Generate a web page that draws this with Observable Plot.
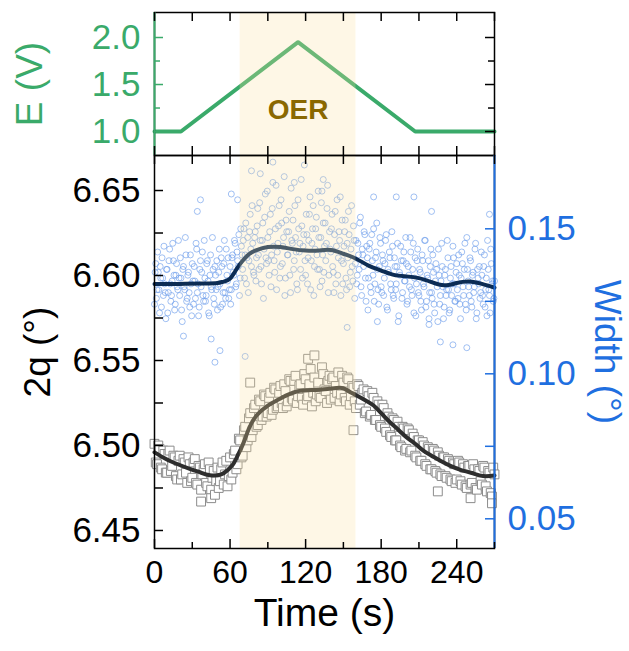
<!DOCTYPE html>
<html><head><meta charset="utf-8">
<script src="https://cdn.jsdelivr.net/npm/d3@7"></script>
<script src="https://cdn.jsdelivr.net/npm/@observablehq/plot@0.6"></script>
<style>
body{margin:0;background:#fff}
#wrap{position:relative;width:629px;height:651px;overflow:hidden}
#wrap svg{position:absolute;left:0}
</style>
</head><body><div id="wrap"></div>
<script>
// ---------- data ----------
const eTime = [0, 21, 114, 207, 270];
const eVolt = [1.0, 1.0, 1.95, 1.0, 1.0];
const oerStart = 68, oerEnd = 160;
const oerLabel = "OER";

const xTicks = [0, 60, 120, 180, 240];
const xMinor = [30, 90, 150, 210, 270];
const eTicks = [1.0, 1.5, 2.0];
const eMinor = [1.25, 1.75];
const thetaTicks = [6.45, 6.50, 6.55, 6.60, 6.65];
const thetaMinor = [6.475, 6.525, 6.575, 6.625];
const widthTicks = [0.05, 0.10, 0.15];
const widthMinor = [0.075, 0.125];

// 2θ scatter (squares), even seconds 0..270
const thetaScatterTime = d3.range(0, 271, 2);
const thetaScatter = [
 6.501,6.489,6.498,6.486,6.495, 6.484,6.497,6.488,6.493,6.480,
 6.494,6.483,6.490,6.478,6.489, 6.481,6.492,6.477,6.487,6.483,
 6.489,6.476,6.486,6.481,6.471, 6.487,6.479,6.490,6.483,6.476,
 6.493,6.484,6.497,6.489,6.503, 6.494,6.511,6.503,6.519,6.509,
 6.524,6.512,6.526,6.517,6.529, 6.519,6.531,6.521,6.533,6.523,
 6.535,6.522,6.532,6.526,6.538, 6.527,6.541,6.529,6.536,6.524,
 6.539,6.529,6.545,6.531,6.526, 6.537,6.528,6.542,6.532,6.538,
 6.527,6.540,6.535,6.543,6.530, 6.537,6.526,6.539,6.529,6.534,
 6.522,6.535,6.527,6.533,6.520, 6.529,6.518,6.528,6.515,6.524,
 6.511,6.522,6.508,6.517,6.505, 6.515,6.503,6.511,6.499,6.510,
 6.498,6.509,6.497,6.505,6.493, 6.503,6.491,6.500,6.488,6.498,
 6.486,6.497,6.484,6.494,6.482, 6.493,6.481,6.491,6.479,6.489,
 6.480,6.490,6.477,6.487,6.475, 6.488,6.478,6.486,6.474,6.485,
 6.477,6.487,6.473,6.484,6.470, 6.483
];
// 2θ scatter (squares), odd seconds 1..269
const thetaScatterTime2 = d3.range(1, 270, 2);
const thetaScatter2 = [
 6.490,6.500,6.487,6.497,6.484, 6.495,6.485,6.494,6.482,6.491,
 6.480,6.492,6.484,6.493,6.479, 6.490,6.478,6.488,6.474,6.486,
 6.478,6.490,6.474,6.485,6.479, 6.475,6.486,6.477,6.491,6.482,
 6.480,6.495,6.486,6.504,6.493, 6.509,6.499,6.516,6.505,6.522,
 6.511,6.527,6.515,6.530,6.517, 6.528,6.518,6.534,6.522,6.531,
 6.525,6.536,6.523,6.539,6.528, 6.538,6.525,6.535,6.528,6.542,
 6.527,6.536,6.523,6.540,6.530, 6.529,6.546,6.533,6.525,6.541,
 6.539,6.528,6.531,6.526,6.541, 6.528,6.540,6.524,6.535,6.526,
 6.536,6.524,6.531,6.519,6.532, 6.517,6.531,6.515,6.526,6.512,
 6.524,6.510,6.519,6.506,6.516, 6.503,6.514,6.500,6.511,6.497,
 6.510,6.496,6.507,6.494,6.503, 6.491,6.502,6.489,6.499,6.486,
 6.498,6.485,6.496,6.483,6.493, 6.482,6.492,6.480,6.490,6.478,
 6.491,6.479,6.489,6.476,6.488, 6.477,6.489,6.475,6.486,6.479,
 6.488,6.476,6.485,6.472,6.487
];
const thetaOutlierTime = [37, 45, 76, 122, 127, 158, 225, 251, 268];
const thetaOutlier = [6.467, 6.469, 6.537, 6.551, 6.553, 6.509, 6.473, 6.469, 6.466];

// peak width scatter (circles), whole seconds 0..270
const widthScatterTime = d3.range(0, 271, 1);
const widthScatter = [
 0.124,0.138,0.129,0.135,0.121,0.133,0.140,0.127,0.131,0.119,
 0.136,0.128,0.143,0.125,0.132,0.139,0.122,0.134,0.130,0.146,
 0.127,0.133,0.118,0.137,0.129,0.141,0.126,0.135,0.123,0.131,
 0.138,0.124,0.132,0.145,0.128,0.120,0.136,0.130,0.142,0.125,
 0.133,0.127,0.139,0.121,0.134,0.130,0.147,0.126,0.137,0.129,
 0.122,0.135,0.131,0.140,0.124,0.138,0.128,0.143,0.132,0.126,
 0.137,0.129,0.141,0.134,0.145,0.131,0.139,0.148,0.133,0.144,
 0.136,0.150,0.141,0.131,0.147,0.139,0.155,0.137,0.145,0.134,
 0.149,0.140,0.157,0.136,0.146,0.131,0.152,0.143,0.162,0.138,
 0.147,0.134,0.155,0.141,0.166,0.139,0.150,0.129,0.145,0.158,
 0.137,0.152,0.144,0.168,0.133,0.149,0.141,0.156,0.128,0.146,
 0.153,0.139,0.147,0.131,0.160,0.142,0.136,0.151,0.144,0.172,
 0.134,0.148,0.140,0.155,0.129,0.145,0.158,0.137,0.150,0.141,
 0.163,0.136,0.147,0.132,0.152,0.144,0.139,0.157,0.128,0.149,
 0.142,0.155,0.135,0.148,0.131,0.160,0.140,0.146,0.127,0.153,
 0.138,0.149,0.133,0.145,0.156,0.130,0.143,0.137,0.151,0.126,
 0.146,0.134,0.141,0.152,0.130,0.143,0.137,0.148,0.125,0.140,
 0.133,0.145,0.128,0.139,0.150,0.131,0.142,0.136,0.124,0.147,
 0.130,0.141,0.127,0.138,0.148,0.122,0.135,0.140,0.129,0.144,
 0.126,0.137,0.131,0.145,0.120,0.134,0.139,0.128,0.142,0.132,
 0.138,0.125,0.134,0.147,0.129,0.136,0.121,0.140,0.131,0.143,
 0.127,0.135,0.122,0.139,0.130,0.146,0.125,0.133,0.119,0.137,
 0.128,0.141,0.124,0.132,0.136,0.118,0.134,0.127,0.145,0.130,
 0.123,0.136,0.129,0.140,0.121,0.133,0.127,0.144,0.131,0.125,
 0.138,0.126,0.134,0.119,0.142,0.130,0.136,0.124,0.147,0.132,
 0.127,0.139,0.123,0.135,0.130,0.145,0.121,0.133,0.137,0.128,
 0.134,0.124,0.141,0.129,0.120,0.136,0.127,0.143,0.131,0.125,
 0.132
];
// peak width scatter (circles), half seconds 0.5..269.5
const widthScatterTime2 = d3.range(0.5, 270, 1);
const widthScatter2 = [
 0.135,0.126,0.142,0.129,0.137,0.123,0.133,0.144,0.128,0.136,
 0.121,0.139,0.131,0.127,0.145,0.134,0.124,0.138,0.129,0.133,
 0.140,0.122,0.136,0.130,0.147,0.125,0.134,0.128,0.141,0.120,
 0.132,0.137,0.126,0.143,0.131,0.123,0.139,0.135,0.127,0.146,
 0.125,0.138,0.132,0.120,0.141,0.129,0.136,0.124,0.134,0.139,
 0.130,0.143,0.123,0.137,0.128,0.146,0.126,0.134,0.140,0.129,
 0.124,0.140,0.135,0.146,0.130,0.142,0.137,0.127,0.150,0.141,
 0.146,0.133,0.152,0.140,0.128,0.149,0.143,0.158,0.135,0.147,
 0.132,0.151,0.141,0.159,0.137,0.146,0.126,0.154,0.140,0.163,
 0.139,0.149,0.130,0.157,0.144,0.135,0.165,0.142,0.151,0.133,
 0.160,0.138,0.147,0.127,0.153,0.141,0.149,0.134,0.164,0.145,
 0.136,0.158,0.142,0.129,0.150,0.145,0.167,0.133,0.148,0.139,
 0.155,0.131,0.146,0.161,0.139,0.150,0.127,0.143,0.154,0.136,
 0.147,0.130,0.159,0.141,0.135,0.152,0.145,0.165,0.134,0.143,
 0.150,0.137,0.128,0.156,0.144,0.134,0.149,0.161,0.139,0.131,
 0.144,0.153,0.129,0.140,0.148,0.135,0.158,0.132,0.146,0.138,
 0.131,0.145,0.136,0.154,0.127,0.141,0.149,0.133,0.144,0.122,
 0.143,0.130,0.148,0.134,0.125,0.140,0.152,0.129,0.137,0.145,
 0.128,0.139,0.133,0.146,0.123,0.136,0.142,0.131,0.149,0.127,
 0.140,0.129,0.137,0.118,0.135,0.144,0.126,0.139,0.132,0.147,
 0.124,0.137,0.130,0.142,0.127,0.145,0.133,0.120,0.139,0.128,
 0.136,0.125,0.141,0.131,0.146,0.123,0.134,0.139,0.128,0.143,
 0.126,0.135,0.121,0.138,0.130,0.143,0.124,0.132,0.137,0.119,
 0.134,0.127,0.146,0.129,0.122,0.137,0.131,0.140,0.125,0.135,
 0.129,0.141,0.124,0.133,0.138,0.127,0.145,0.122,0.136,0.130,
 0.140,0.125,0.134,0.128,0.143,0.119,0.136,0.131,0.126,0.142,
 0.127,0.137,0.123,0.133,0.146,0.129,0.121,0.138,0.132,0.126
];
const widthOutlierTime = [23, 34, 36.5, 45, 48, 52, 61, 66, 72, 77, 84, 94, 111, 133, 134, 153, 174, 177, 192, 206, 218, 220, 227, 237, 248, 266];
const widthOutlier = [0.113, 0.156, 0.160, 0.112, 0.104, 0.108, 0.162, 0.160, 0.106, 0.170, 0.169, 0.173, 0.166, 0.163, 0.167, 0.116, 0.161, 0.118, 0.161, 0.161, 0.117, 0.156, 0.111, 0.110, 0.109, 0.155];

// smoothed curves
const thetaSmoothTime = [0,8,15,28,36,44,53,58,62.5,66,70.4,75,81,90,99.6,113,131,147,153,160.5,167,174,180,187,194,200,207,213.5,220,227,235,243,252,261,270];
const thetaSmooth = [6.496,6.4925,6.490,6.4863,6.4843,6.4825,6.483,6.4855,6.489,6.494,6.501,6.510,6.5176,6.5235,6.5275,6.5318,6.5328,6.534,6.5325,6.5294,6.5268,6.5235,6.519,6.5137,6.509,6.5049,6.501,6.497,6.494,6.491,6.488,6.4857,6.4838,6.482,6.4824];
const widthSmoothTime = [0,20,40,50,55,60,65,70,75,80,90,100,110,120,130,140,150,160,170,180,190,200,210,220,230,240,250,260,270];
const widthSmooth = [0.1310,0.1310,0.1311,0.1313,0.1318,0.1328,0.1360,0.1390,0.1412,0.1425,0.1437,0.1437,0.1430,0.1425,0.1425,0.1427,0.1414,0.1397,0.1373,0.1356,0.1341,0.1336,0.1330,0.1316,0.1305,0.1313,0.1318,0.1310,0.1297];

// ---------- styles ----------
const green = "#3aaa6a", blue = "#1f6fe0", black = "#000";
const shadeFill = "#fbe29f", shadeOpacity = 0.26;
const font = "'Liberation Sans', Arial, Helvetica, sans-serif";
const xDomain = [0, 270];
const eDomain = [0.745, 2.266];
const thetaDomain = [6.4394, 6.6706];
const widthDomain = [0.03976, 0.17528];
const wToY = d3.scaleLinear(widthDomain, thetaDomain);

const zip = (ts, vs, k) => ts.map((t, i) => ({t, [k]: vs[i]}));
const eData = zip(eTime, eVolt, "v");
const thetaData = zip(thetaScatterTime, thetaScatter, "v")
  .concat(zip(thetaScatterTime2, thetaScatter2, "v"))
  .concat(zip(thetaOutlierTime, thetaOutlier, "v"))
  .sort((a, b) => a.t - b.t);
const widthData = zip(widthScatterTime, widthScatter, "w")
  .concat(zip(widthScatterTime2, widthScatter2, "w"))
  .concat(zip(widthOutlierTime, widthOutlier, "w"));
const thetaLine = zip(thetaSmoothTime, thetaSmooth, "v");
const widthLine = zip(widthSmoothTime, widthSmooth, "w");
const oer = [{x1: oerStart, x2: oerEnd}];

const W = 629, mL = 154, mR = 135, FW = W - mL - mR;
const major = 9, minor = 6;

// ---------- top panel ----------
const topH = 156, topMT = 12, topMB = 1, topFH = topH - topMT - topMB;
const topPlot = Plot.plot({
  width: W, height: topH, marginLeft: mL, marginRight: mR, marginTop: topMT, marginBottom: topMB,
  x: {domain: xDomain, axis: null},
  y: {domain: eDomain, axis: null},
  style: {fontFamily: font, background: "transparent", overflow: "visible"},
  marks: [
    Plot.line(eData, {x: "t", y: "v", stroke: green, strokeWidth: 4}),
    Plot.rect(oer, {x1: "x1", x2: "x2", fill: shadeFill, fillOpacity: shadeOpacity}),
    Plot.text([oerLabel], {x: () => (oerStart + oerEnd) / 2, frameAnchor: "bottom", dy: -37, fontSize: 28, fontWeight: "bold", fill: "#8a6800"}),
    Plot.frame({stroke: black, strokeWidth: 1.5}),
    Plot.ruleX([xDomain[0]], {stroke: green, strokeWidth: 2}),
    Plot.tickX(xTicks.concat(xMinor), {x: d => d, insetBottom: topFH - major, stroke: black, strokeWidth: 1.5}),
    Plot.tickX(xTicks.concat(xMinor), {x: d => d, insetTop: topFH - major, stroke: black, strokeWidth: 1.5}),
    Plot.tickY(eTicks, {y: d => d, insetRight: FW - major, stroke: green, strokeWidth: 1.5}),
    Plot.tickY(eMinor, {y: d => d, insetRight: FW - minor, stroke: green, strokeWidth: 1.5}),
    Plot.tickY(eTicks, {y: d => d, insetLeft: FW - major, stroke: black, strokeWidth: 1.5}),
    Plot.tickY(eMinor, {y: d => d, insetLeft: FW - minor, stroke: black, strokeWidth: 1.5}),
    Plot.axisY(eTicks, {anchor: "left", tickSize: 0, tickPadding: 14, tickFormat: d3.format(".1f"), fontSize: 35, color: green, label: null}),
    Plot.text(["E (V)"], {frameAnchor: "left", dx: -124, rotate: -90, textAnchor: "middle", fontSize: 37, fill: green})
  ]
});
topPlot.style.top = "0px";

// ---------- bottom panel ----------
const botTop = 154, botH = 497, botMT = 1, botMB = 103, botFH = botH - botMT - botMB;
const botPlot = Plot.plot({
  width: W, height: botH, marginLeft: mL, marginRight: mR, marginTop: botMT, marginBottom: botMB,
  x: {domain: xDomain, axis: null},
  y: {domain: thetaDomain, axis: null},
  style: {fontFamily: font, background: "transparent", overflow: "visible"},
  marks: [
    Plot.dot(widthData, {x: "t", y: d => wToY(d.w), r: 3, stroke: "#6b9ceb", strokeOpacity: 0.8, strokeWidth: 0.8, fill: "none"}),
    Plot.dot(thetaData, {x: "t", y: "v", symbol: "square", r: 5, stroke: "#8c8c8c", strokeWidth: 1, fill: "#fff"}),
    Plot.line(widthLine, {x: "t", y: d => wToY(d.w), curve: "natural", stroke: "#0c2c54", strokeWidth: 4}),
    Plot.line(thetaLine, {x: "t", y: "v", curve: "natural", stroke: "#2e2e2e", strokeWidth: 4}),
    Plot.rect(oer, {x1: "x1", x2: "x2", fill: shadeFill, fillOpacity: shadeOpacity}),
    Plot.frame({stroke: black, strokeWidth: 1.5}),
    Plot.ruleX([xDomain[1]], {stroke: blue, strokeWidth: 2}),
    Plot.tickX(xTicks, {x: d => d, insetTop: botFH - major, stroke: black, strokeWidth: 1.5}),
    Plot.tickX(xMinor, {x: d => d, insetTop: botFH - minor, stroke: black, strokeWidth: 1.5}),
    Plot.tickX(xTicks.concat(xMinor), {x: d => d, insetBottom: botFH - major, stroke: black, strokeWidth: 1.5}),
    Plot.tickY(thetaTicks, {y: d => d, insetRight: FW - major, stroke: black, strokeWidth: 1.5}),
    Plot.tickY(thetaMinor, {y: d => d, insetRight: FW - major, stroke: black, strokeWidth: 1.5}),
    Plot.tickY(widthTicks, {y: d => wToY(d), insetLeft: FW - major, stroke: blue, strokeWidth: 1.5}),
    Plot.tickY(widthMinor, {y: d => wToY(d), insetLeft: FW - major, stroke: blue, strokeWidth: 1.5}),
    Plot.axisY(thetaTicks, {anchor: "left", tickSize: 0, tickPadding: 14, tickFormat: d3.format(".2f"), fontSize: 35, color: black, label: null}),
    Plot.axisY(widthTicks.map(d => wToY(d)), {anchor: "right", tickSize: 0, tickPadding: 13, tickFormat: d => d3.format(".2f")(wToY.invert(d)), fontSize: 35, color: blue, label: null}),
    Plot.axisX(xTicks, {anchor: "bottom", tickSize: 0, tickPadding: 12, tickFormat: d => String(d), fontSize: 32, color: black, label: null}),
    Plot.text(["2q (°)"], {frameAnchor: "left", dx: -116, rotate: -90, textAnchor: "middle", fontSize: 37, fill: black}),
    Plot.text(["Width (°)"], {frameAnchor: "right", dx: 112, rotate: 90, textAnchor: "middle", fontSize: 37, fill: blue}),
    Plot.text(["Time (s)"], {frameAnchor: "bottom", dy: 77, fontSize: 39, fill: black})
  ]
});
botPlot.style.top = botTop + "px";

const wrap = document.getElementById("wrap");
wrap.appendChild(topPlot);
wrap.appendChild(botPlot);
</script>
</body></html>
